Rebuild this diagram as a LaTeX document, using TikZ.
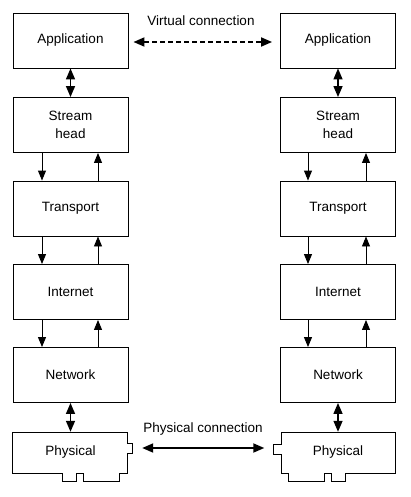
\documentclass[tikz,border=0pt]{standalone}
\usepackage{fontspec}
\setmainfont{Liberation Sans}
\usetikzlibrary{arrows.meta}
\begin{document}
\begin{tikzpicture}[x=1pt,y=-1pt,
    layer/.style={draw,line width=0.9pt,minimum width=115pt,minimum height=55pt,
      inner sep=0pt,align=center,font=\fontsize{13.5}{18}\selectfont},
    card/.style={minimum width=115pt,minimum height=41pt,inner sep=0pt,
      font=\fontsize{13.5}{18}\selectfont},
    flow/.style={line width=0.9pt,-{Triangle[length=10pt,width=8pt]}},
    both/.style={line width=1.8pt,{Triangle[length=11pt,width=9pt]}-{Triangle[length=11pt,width=9pt]}},
    lbl/.style={font=\fontsize{13.5}{18}\selectfont}]
\useasboundingbox (0,0) rectangle (410,497);
% the two stacks
\foreach \s/\x in {L/70.5,R/338}{
  \node[layer] (app\s) at (\x,40.5) {Application};
  \node[layer] (str\s) at (\x,125) {Stream\\head};
  \node[layer] (trp\s) at (\x,208.5) {Transport};
  \node[layer] (ip\s) at (\x,292) {Internet};
  \node[layer] (net\s) at (\x,375) {Network};
  \node[card] (phy\s) at (\x,452.5) {Physical};
}
% card outlines
\draw[line width=0.9pt,shift={(phyL.south west)}] (0,0) -- (50,0) -- (50,8) -- (64,8) -- (64,0)
  -- (71,0) -- (71,8) -- (107,8) -- (107,0) -- (115,0) -- (115,-20) -- (120,-20)
  -- (120,-30) -- (115,-30) -- (115,-41) -- (0,-41) -- cycle;
\draw[line width=0.9pt,shift={(phyR.south east)},xscale=-1] (0,0) -- (50,0) -- (50,8) -- (64,8) -- (64,0)
  -- (71,0) -- (71,8) -- (107,8) -- (107,0) -- (114,0) -- (114,-19) -- (122,-19)
  -- (122,-29) -- (114,-29) -- (114,-41) -- (0,-41) -- cycle;
\coordinate (tabL) at ([xshift=5pt,yshift=4.5pt]phyL.east);
\coordinate (tabR) at ([xshift=-8pt,yshift=4.5pt]phyR.west);
% inside each stack
\foreach \s/\d/\u in {L/-28.5/27.5,R/-30/28}{
  \draw[both,line width=1.4pt] (app\s) -- (str\s);
  \draw[both,line width=1.4pt] (net\s) -- (phy\s.north);
  \draw[flow] ([xshift=\d pt]str\s.south) -- ([xshift=\d pt]trp\s.north);
  \draw[flow] ([xshift=\u pt]trp\s.north) -- ([xshift=\u pt]str\s.south);
  \draw[flow] ([xshift=\d pt]trp\s.south) -- ([xshift=\d pt]ip\s.north);
  \draw[flow] ([xshift=\u pt]ip\s.north) -- ([xshift=\u pt]trp\s.south);
  \draw[flow] ([xshift=\d pt]ip\s.south) -- ([xshift=\d pt]net\s.north);
  \draw[flow] ([xshift=\u pt]net\s.north) -- ([xshift=\u pt]ip\s.south);
}
% between the stacks
\node[lbl] (vlbl) at (201,21) {Virtual connection};
\draw[both,dash pattern=on 5pt off 3pt] ([xshift=5pt,yshift=-1.5pt]appL.east) -- ([xshift=-8pt,yshift=-1.5pt]appR.west);
\node[lbl] (plbl) at (203,429) {Physical connection};
\draw[both] ([xshift=9pt]tabL) -- ([xshift=-8pt]tabR);
\end{tikzpicture}
\end{document}
